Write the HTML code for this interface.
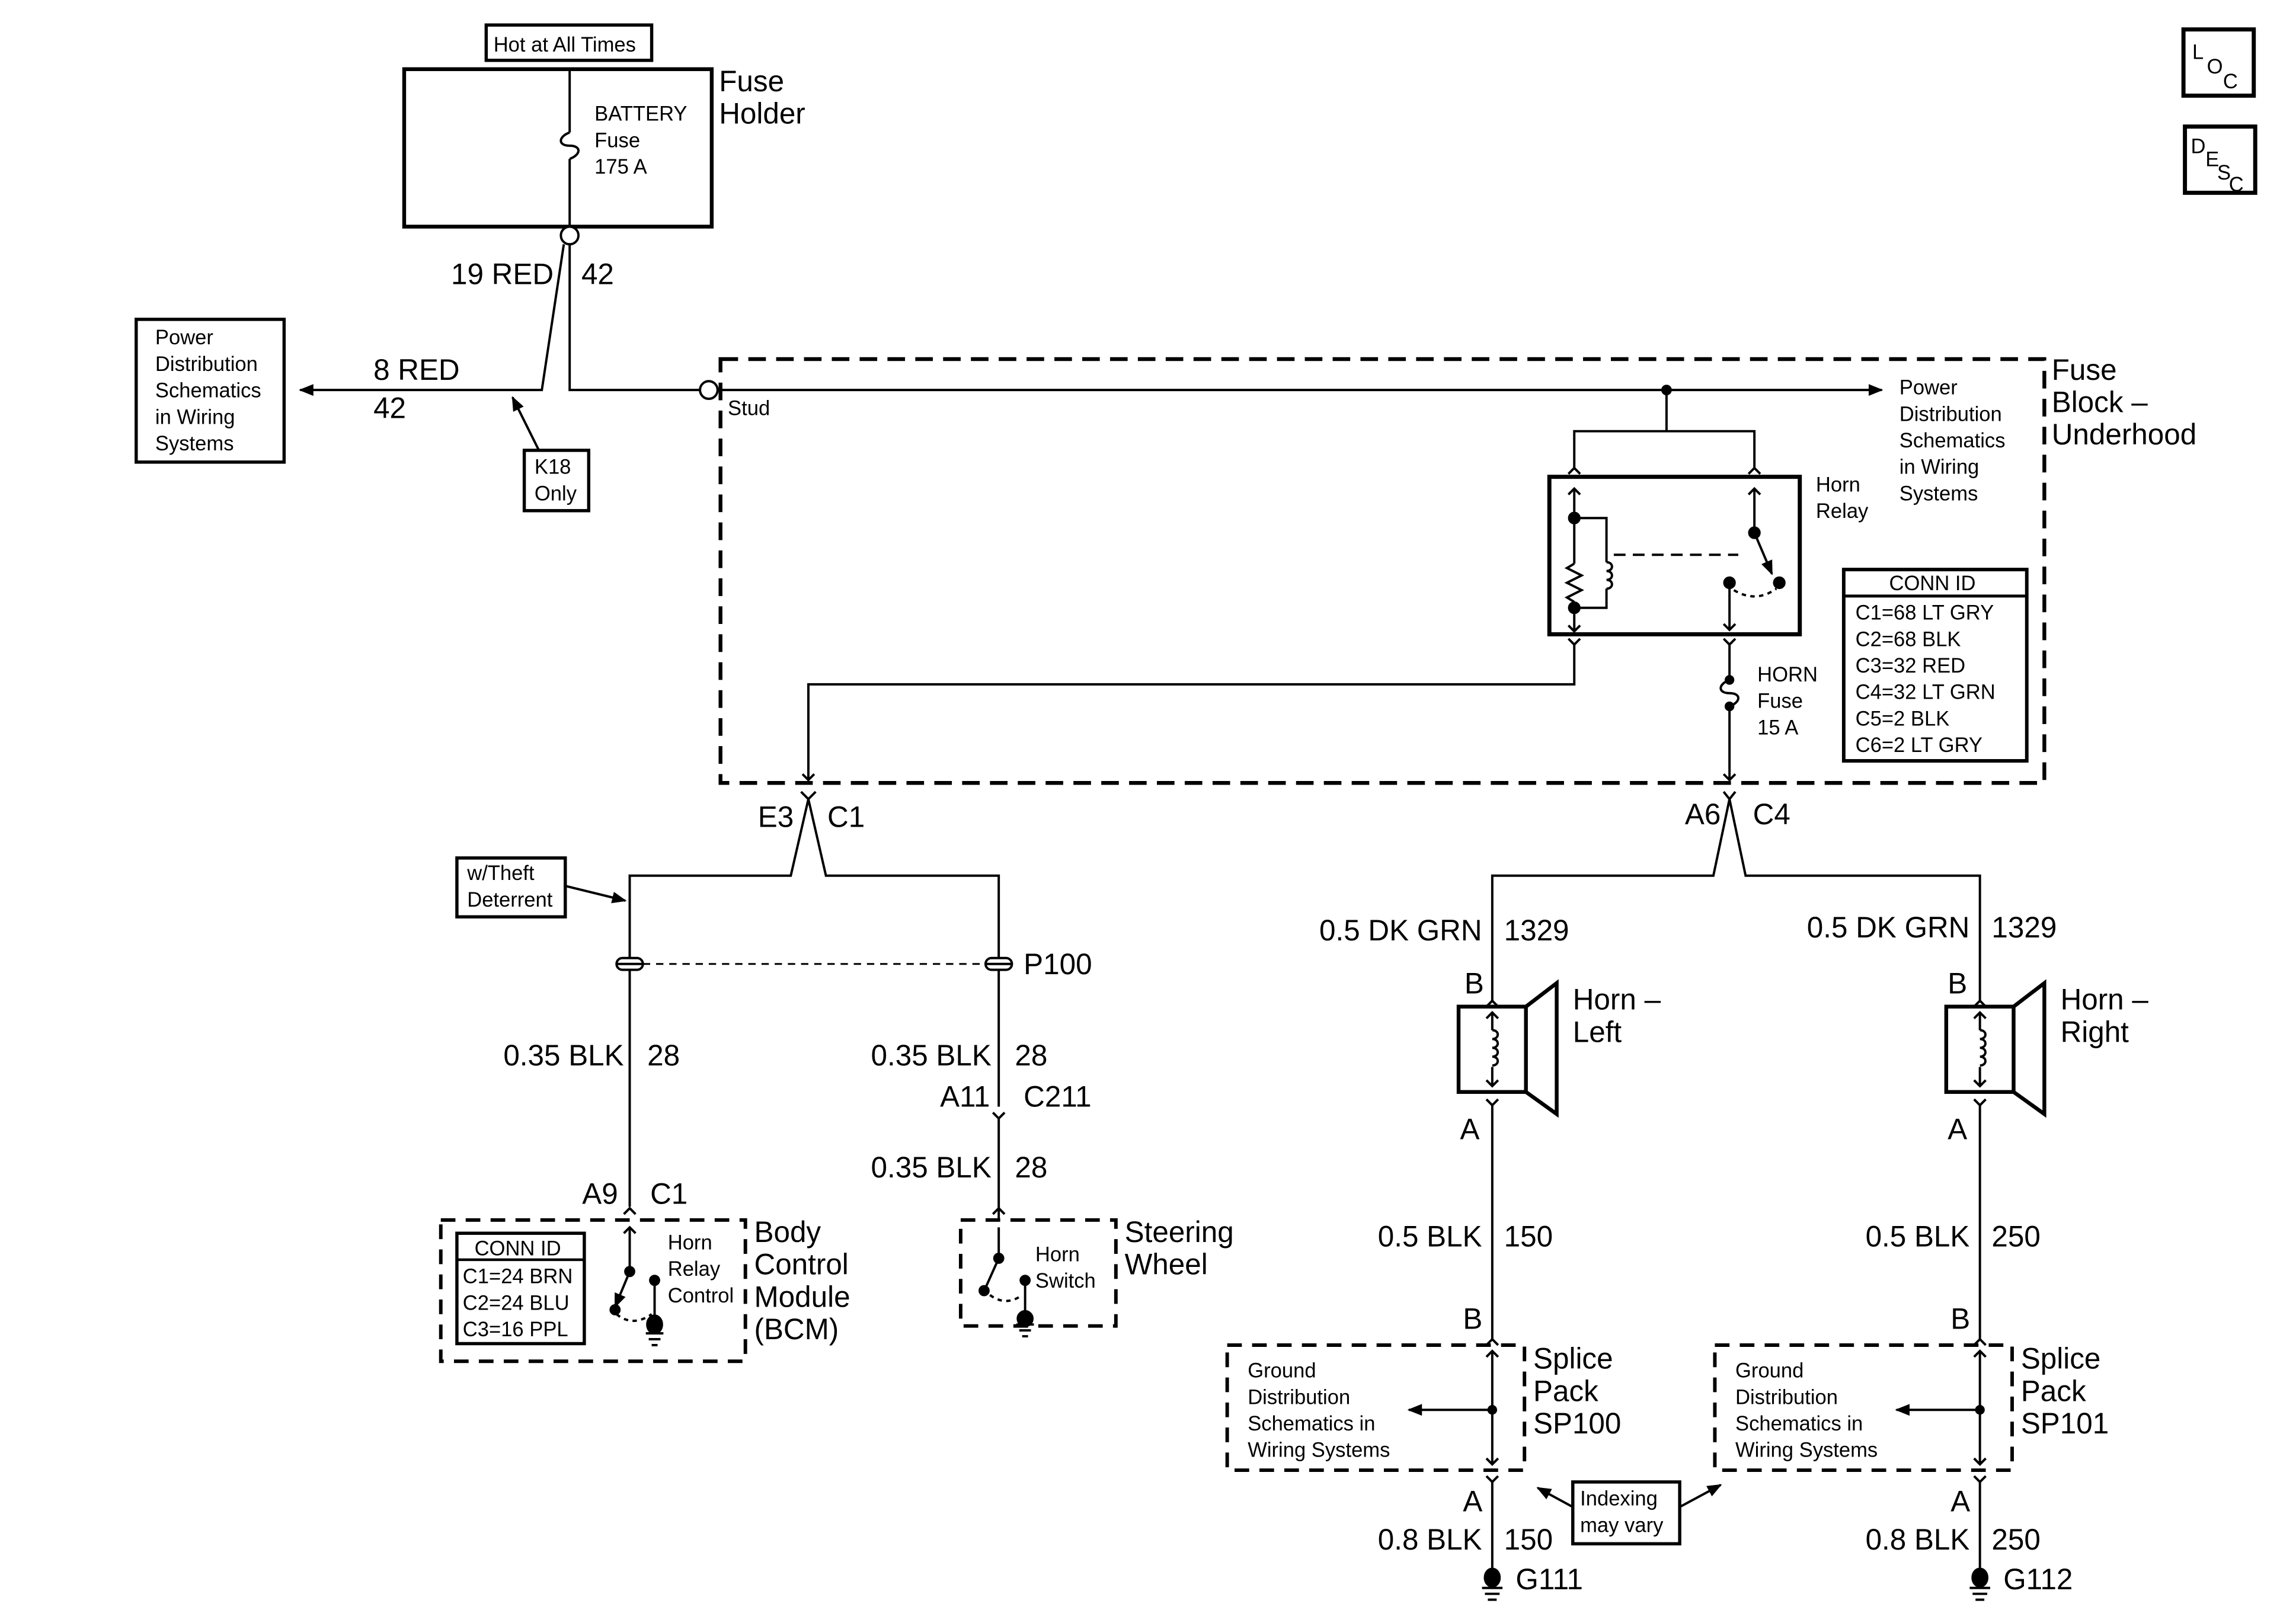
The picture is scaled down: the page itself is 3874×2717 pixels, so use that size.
<!DOCTYPE html>
<html><head><meta charset="utf-8"><style>
html,body{margin:0;padding:0;background:#fff;}
svg{display:block;}
text{font-family:"Liberation Sans",Arial,sans-serif;fill:#000;}
.s{font-size:14px;}
.l{font-size:20px;}
</style></head><body>
<svg width="3874" height="2717" viewBox="0 0 1560 1094" preserveAspectRatio="none" xmlns="http://www.w3.org/2000/svg">
<defs>
<marker id="ar" markerWidth="10" markerHeight="10" refX="9" refY="5" orient="auto" markerUnits="userSpaceOnUse"><path d="M0,1 L10,5 L0,9 Z" fill="#000"/></marker>
</defs>
<g transform="scale(0.995,1)">
<g fill="none" stroke="#000" stroke-width="1.6">
<rect x="1491" y="20" width="48" height="45" stroke-width="2.8"/>
<rect x="1492" y="86" width="48" height="45" stroke-width="2.8"/>
<rect x="332" y="17" width="113" height="24" stroke-width="2.2"/>
<rect x="276" y="47" width="210" height="107" stroke-width="2.6"/>
<path d="M389,47 V90 M389,108 V154"/>
<path d="M389,90 C381,93 381,99 389,99 C397,99 397,105 389,108"/>
<circle cx="389" cy="160" r="6" fill="#fff"/>
<path d="M389,166 V265 H478"/>
<path d="M385,166 L370,265 H205" marker-end="url(#ar)"/>
<path d="M490,265 H1285" marker-end="url(#ar)"/>
<circle cx="484" cy="265" r="6" fill="#fff"/>
<rect x="93" y="217" width="101" height="97" stroke-width="2.2"/>
<rect x="358" y="306" width="44" height="41" stroke-width="2.2"/>
<path d="M368,306 L350,270" marker-end="url(#ar)"/>
<rect x="492" y="244" width="904" height="288" stroke-width="2.6" stroke-dasharray="12,7"/>
<circle cx="1138" cy="265" r="2.8" fill="#000"/>
<path d="M1138,265 V293 M1075,318 V293 H1198 V318"/>
<rect x="1058" y="324" width="171" height="107" stroke-width="2.8"/>
<path d="M1071,322 l4,-4 l4,4 M1194,322 l4,-4 l4,4"/>
<path d="M1075,332 V352 M1075,352 V383 M1075,413 V429 M1071,336 l4,-4 l4,4 M1071,425 l4,4 l4,-4"/>
<path d="M1075,383 l-5,3 l10,5 l-10,5 l10,5 l-10,5 l5,3"/>
<path d="M1075,352 H1097 V382 M1097,400 V413 H1075"/>
<path d="M1097,382 c5,0 5,6 0,6 c5,0 5,6 0,6 c5,0 5,6 0,6"/>
<path d="M1102,377 H1187" stroke-dasharray="8,5"/>
<path d="M1198,332 V362 M1194,336 l4,-4 l4,4"/>
<path d="M1198,362 L1210,390" marker-end="url(#ar)"/>
<path d="M1181,428 V396 M1177,424 l4,4 l4,-4"/>
<path d="M1184,401 Q1199,410 1213,400" stroke-dasharray="3,3"/>
<circle cx="1075" cy="352" r="3.5" fill="#000"/>
<circle cx="1075" cy="413" r="3.5" fill="#000"/>
<circle cx="1198" cy="362" r="3.5" fill="#000"/>
<circle cx="1181" cy="396" r="3.5" fill="#000"/>
<circle cx="1215" cy="396" r="3.5" fill="#000"/>
<path d="M1071,434 l4,4 l4,-4 M1075,438 V465 H552 V530 M548,526 l4,4 l4,-4"/>
<path d="M1177,434 l4,4 l4,-4 M1181,438 V462 M1181,480 V530 M1177,526 l4,4 l4,-4"/>
<path d="M1181,462 C1173,465 1173,471 1181,471 C1189,471 1189,477 1181,480"/>
<circle cx="1181" cy="462" r="2.5" fill="#000"/>
<circle cx="1181" cy="480" r="2.5" fill="#000"/>
<rect x="1259" y="387" width="125" height="130" stroke-width="2.4"/>
<path d="M1259,405 H1384" stroke-width="2"/>
<path d="M547,538 l5,5 l5,-5 M430,820 V595 H540 L552,543 L564,595 H682 V752"/>
<rect x="312" y="583" width="74" height="40" stroke-width="2.2"/>
<path d="M386,602 L427,612" marker-end="url(#ar)"/>
<rect x="421" y="651" width="18" height="8" rx="4" fill="#fff"/>
<path d="M421,655 H439"/>
<rect x="673" y="651" width="18" height="8" rx="4" fill="#fff"/>
<path d="M673,655 H691"/>
<path d="M439,655 H673" stroke-dasharray="5,4" stroke-width="1.2"/>
<path d="M678,756 l4,4 l4,-4 M682,760 V830 M678,825 l4,-4 l4,4"/>
<path d="M426,825 l4,-4 l4,4"/>
<rect x="301" y="829" width="208" height="96" stroke-width="2.4" stroke-dasharray="10,7"/>
<rect x="312" y="838" width="87" height="75" stroke-width="2.2"/>
<path d="M312,856 H399" stroke-width="1.8"/>
<path d="M430,834 V864 M426,838 l4,-4 l4,4"/>
<path d="M430,864 L420,888" marker-end="url(#ar)"/>
<path d="M421,893 Q432,902 445,893" stroke-dasharray="3,3"/>
<path d="M447,870 V895 M441,906 H453 M443,910 H451 M445,914 H449"/>
<circle cx="430" cy="864" r="3" fill="#000"/>
<circle cx="420" cy="890" r="3" fill="#000"/>
<circle cx="447" cy="870" r="3" fill="#000"/>
<ellipse cx="447" cy="900" rx="5" ry="6" fill="#000"/>
<rect x="656" y="829" width="106" height="72" stroke-width="2.4" stroke-dasharray="10,7"/>
<path d="M682,834 V855 L673,875"/>
<path d="M676,880 Q687,888 698,880" stroke-dasharray="3,3"/>
<path d="M700,870 V895 M694,900 H706 M696,904 H704 M698,908 H702"/>
<circle cx="682" cy="855" r="3" fill="#000"/>
<circle cx="672" cy="877" r="3" fill="#000"/>
<circle cx="700" cy="870" r="3" fill="#000"/>
<ellipse cx="700" cy="896" rx="5" ry="5" fill="#000"/>
<path d="M1177,538 l4,5 l4,-5 M1019,680 V595 H1170 L1181,543 L1192,595 H1352 V680"/>
<g id="horn">
<path d="M1015,684 l4,-4 l4,4"/>
<rect x="996" y="684" width="46" height="58" stroke-width="2.6"/>
<path d="M1042,684 L1063,668 V757 L1042,742" stroke-width="2.6"/>
<path d="M1019,688 V700 M1019,725 V738 M1015,692 l4,-4 l4,4 M1015,734 l4,4 l4,-4"/>
<path d="M1019,700 c5,0 5,6 0,6 c5,0 5,6 0,6 c5,0 5,6 0,6 c5,0 5,6 0,6"/>
<path d="M1015,747 l4,4 l4,-4 M1019,751 V910 M1015,914 l4,-4 l4,4"/>
<rect x="838" y="914" width="203" height="85" stroke-width="2.4" stroke-dasharray="10,7"/>
<path d="M1019,918 V995 M1015,922 l4,-4 l4,4 M1015,991 l4,4 l4,-4"/>
<path d="M1019,958 H962" marker-end="url(#ar)"/>
<circle cx="1019" cy="958" r="2.5" fill="#000"/>
<path d="M1015,1003 l4,4 l4,-4 M1019,1007 V1068 M1012,1079 H1026 M1014,1083 H1024 M1016,1087 H1022"/>
<ellipse cx="1019" cy="1072" rx="5" ry="6" fill="#000"/>
</g>
<use href="#horn" x="333"/>
<rect x="1074" y="1007" width="73" height="42" stroke-width="2.2"/>
<path d="M1074,1024 L1050,1011" marker-end="url(#ar)"/>
<path d="M1147,1024 L1175,1009" marker-end="url(#ar)"/>
</g>
<g class="l">
<text x="1497" y="40" class="s">L</text><text x="1507" y="50" class="s">O</text><text x="1518" y="60" class="s">C</text>
<text x="1496" y="104" class="s">D</text><text x="1506" y="113" class="s">E</text><text x="1514" y="122" class="s">S</text><text x="1522" y="130" class="s">C</text>
<text x="337" y="35" class="s">Hot at All Times</text>
<text x="406" y="82" class="s">BATTERY</text><text x="406" y="100" class="s">Fuse</text><text x="406" y="118" class="s">175 A</text>
<text x="491" y="62">Fuse</text><text x="491" y="84">Holder</text>
<text x="378" y="193" text-anchor="end">19 RED</text><text x="397" y="193">42</text>
<text x="255" y="258">8 RED</text><text x="255" y="284">42</text>
<g class="s"><text x="106" y="234">Power</text><text x="106" y="252">Distribution</text><text x="106" y="270">Schematics</text><text x="106" y="288">in Wiring</text><text x="106" y="306">Systems</text>
<text x="365" y="322">K18</text><text x="365" y="340">Only</text>
<text x="497" y="282">Stud</text>
<text x="1297" y="268">Power</text><text x="1297" y="286">Distribution</text><text x="1297" y="304">Schematics</text><text x="1297" y="322">in Wiring</text><text x="1297" y="340">Systems</text>
<text x="1240" y="334">Horn</text><text x="1240" y="352">Relay</text>
<text x="1200" y="463">HORN</text><text x="1200" y="481">Fuse</text><text x="1200" y="499">15 A</text>
<text x="1290" y="401">CONN ID</text>
<text x="1267" y="421">C1=68 LT GRY</text><text x="1267" y="439">C2=68 BLK</text><text x="1267" y="457">C3=32 RED</text><text x="1267" y="475">C4=32 LT GRN</text><text x="1267" y="493">C5=2 BLK</text><text x="1267" y="511">C6=2 LT GRY</text>
<text x="319" y="598">w/Theft</text><text x="319" y="616">Deterrent</text>
<text x="324" y="853">CONN ID</text>
<text x="316" y="872">C1=24 BRN</text><text x="316" y="890">C2=24 BLU</text><text x="316" y="908">C3=16 PPL</text>
<text x="456" y="849">Horn</text><text x="456" y="867">Relay</text><text x="456" y="885">Control</text>
<text x="707" y="857">Horn</text><text x="707" y="875">Switch</text>
<text x="852" y="936">Ground</text><text x="852" y="954">Distribution</text><text x="852" y="972">Schematics in</text><text x="852" y="990">Wiring Systems</text>
<text x="1185" y="936">Ground</text><text x="1185" y="954">Distribution</text><text x="1185" y="972">Schematics in</text><text x="1185" y="990">Wiring Systems</text>
<text x="1079" y="1023">Indexing</text><text x="1079" y="1041">may vary</text>
</g>
<text x="1401" y="258">Fuse</text><text x="1401" y="280">Block –</text><text x="1401" y="302">Underhood</text>
<text x="542" y="562" text-anchor="end">E3</text><text x="565" y="562">C1</text>
<text x="1175" y="560" text-anchor="end">A6</text><text x="1197" y="560">C4</text>
<text x="699" y="662">P100</text>
<text x="426" y="724" text-anchor="end">0.35 BLK</text><text x="442" y="724">28</text>
<text x="677" y="724" text-anchor="end">0.35 BLK</text><text x="693" y="724">28</text>
<text x="676" y="752" text-anchor="end">A11</text><text x="699" y="752">C211</text>
<text x="677" y="800" text-anchor="end">0.35 BLK</text><text x="693" y="800">28</text>
<text x="422" y="818" text-anchor="end">A9</text><text x="444" y="818">C1</text>
<text x="515" y="844">Body</text><text x="515" y="866">Control</text><text x="515" y="888">Module</text><text x="515" y="910">(BCM)</text>
<text x="768" y="844">Steering</text><text x="768" y="866">Wheel</text>
<text x="1012" y="639" text-anchor="end">0.5 DK GRN</text><text x="1027" y="639">1329</text>
<text x="1345" y="637" text-anchor="end">0.5 DK GRN</text><text x="1360" y="637">1329</text>
<text x="1000" y="675">B</text><text x="1330" y="675">B</text>
<text x="1074" y="686">Horn –</text><text x="1074" y="708">Left</text>
<text x="1407" y="686">Horn –</text><text x="1407" y="708">Right</text>
<text x="997" y="774">A</text><text x="1330" y="774">A</text>
<text x="1012" y="847" text-anchor="end">0.5 BLK</text><text x="1027" y="847">150</text>
<text x="1345" y="847" text-anchor="end">0.5 BLK</text><text x="1360" y="847">250</text>
<text x="999" y="903">B</text><text x="1332" y="903">B</text>
<text x="1047" y="930">Splice</text><text x="1047" y="952">Pack</text><text x="1047" y="974">SP100</text>
<text x="1380" y="930">Splice</text><text x="1380" y="952">Pack</text><text x="1380" y="974">SP101</text>
<text x="999" y="1027">A</text><text x="1332" y="1027">A</text>
<text x="1012" y="1053" text-anchor="end">0.8 BLK</text><text x="1027" y="1053">150</text>
<text x="1345" y="1053" text-anchor="end">0.8 BLK</text><text x="1360" y="1053">250</text>
<text x="1035" y="1080">G111</text><text x="1368" y="1080">G112</text>
</g>
</g>
</svg>
</body></html>
